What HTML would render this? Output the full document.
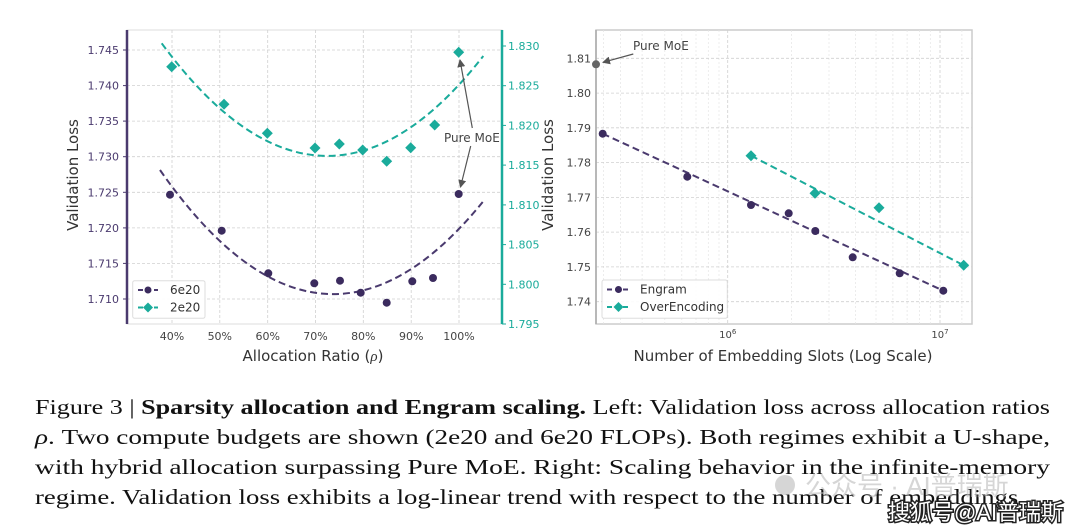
<!DOCTYPE html>
<html><head><meta charset="utf-8"><style>
html,body{margin:0;padding:0;background:#fff;}
svg{display:block;}
.t{font-family:"DejaVu Sans","Liberation Sans",sans-serif;}
.cap{font-family:"Liberation Serif",serif;font-size:21px;fill:#111;}
</style></head><body>
<svg width="1080" height="532" viewBox="0 0 1080 532" xmlns="http://www.w3.org/2000/svg">
<defs>
<marker id="ah" markerWidth="8" markerHeight="8" refX="7" refY="4" orient="auto" markerUnits="userSpaceOnUse"><path d="M0,0 L8,4 L0,8 z" fill="#555"/></marker>
</defs>
<!-- LEFT CHART -->
<rect x="127" y="30" width="375" height="294" fill="#fff" stroke="#ddd"/>
<g stroke="#d0d0d0" stroke-dasharray="3,2" stroke-width="0.8">
<line x1="172" y1="30" x2="172" y2="324"/><line x1="219.8" y1="30" x2="219.8" y2="324"/><line x1="267.7" y1="30" x2="267.7" y2="324"/><line x1="315.5" y1="30" x2="315.5" y2="324"/><line x1="363.3" y1="30" x2="363.3" y2="324"/><line x1="411.2" y1="30" x2="411.2" y2="324"/><line x1="459" y1="30" x2="459" y2="324"/>
<line x1="127" y1="50" x2="502" y2="50"/><line x1="127" y1="85.6" x2="502" y2="85.6"/><line x1="127" y1="121.1" x2="502" y2="121.1"/><line x1="127" y1="156.7" x2="502" y2="156.7"/><line x1="127" y1="192.3" x2="502" y2="192.3"/><line x1="127" y1="227.9" x2="502" y2="227.9"/><line x1="127" y1="263.4" x2="502" y2="263.4"/><line x1="127" y1="299" x2="502" y2="299"/>
</g>
<line x1="127" y1="30" x2="127" y2="324" stroke="#4a3a6e" stroke-width="2.5"/>
<line x1="502" y1="30" x2="502" y2="324" stroke="#1aab9b" stroke-width="2.5"/>
<g class="t" font-size="11" fill="#4a3a6e" text-anchor="end">
<text x="119" y="54">1.745</text><text x="119" y="89.6">1.740</text><text x="119" y="125.1">1.735</text><text x="119" y="160.7">1.730</text><text x="119" y="196.3">1.725</text><text x="119" y="231.9">1.720</text><text x="119" y="267.4">1.715</text><text x="119" y="303">1.710</text>
</g>
<g stroke="#4a3a6e"><line x1="123" y1="50" x2="127" y2="50"/><line x1="123" y1="85.6" x2="127" y2="85.6"/><line x1="123" y1="121.1" x2="127" y2="121.1"/><line x1="123" y1="156.7" x2="127" y2="156.7"/><line x1="123" y1="192.3" x2="127" y2="192.3"/><line x1="123" y1="227.9" x2="127" y2="227.9"/><line x1="123" y1="263.4" x2="127" y2="263.4"/><line x1="123" y1="299" x2="127" y2="299"/></g>
<g stroke="#1aab9b"><line x1="502" y1="46" x2="506" y2="46"/><line x1="502" y1="85.7" x2="506" y2="85.7"/><line x1="502" y1="125.4" x2="506" y2="125.4"/><line x1="502" y1="165.1" x2="506" y2="165.1"/><line x1="502" y1="204.9" x2="506" y2="204.9"/><line x1="502" y1="244.6" x2="506" y2="244.6"/><line x1="502" y1="284.3" x2="506" y2="284.3"/><line x1="502" y1="324" x2="506" y2="324"/></g>
<g class="t" font-size="11" fill="#1aab9b">
<text x="508" y="50">1.830</text><text x="508" y="89.7">1.825</text><text x="508" y="129.4">1.820</text><text x="508" y="169.1">1.815</text><text x="508" y="208.9">1.810</text><text x="508" y="248.6">1.805</text><text x="508" y="288.3">1.800</text><text x="508" y="328">1.795</text>
</g>
<g class="t" font-size="11" fill="#444" text-anchor="middle">
<text x="172" y="340">40%</text><text x="219.8" y="340">50%</text><text x="267.7" y="340">60%</text><text x="315.5" y="340">70%</text><text x="363.3" y="340">80%</text><text x="411.2" y="340">90%</text><text x="459" y="340">100%</text>
</g>
<text class="t" x="313" y="361" font-size="15" fill="#333" text-anchor="middle">Allocation Ratio (<tspan font-style="italic" font-family="Liberation Serif,serif">ρ</tspan>)</text>
<text class="t" transform="translate(78,175) rotate(-90)" font-size="15" fill="#333" text-anchor="middle">Validation Loss</text>
<path d="M160,170 Q321,401 482.7,202" fill="none" stroke="#4a3a6e" stroke-width="2" stroke-dasharray="7,4"/>
<path d="M161.7,43.3 Q322.5,262 483.3,56" fill="none" stroke="#1aab9b" stroke-width="2" stroke-dasharray="7,4"/>
<g fill="#3b2b5e">
<circle cx="170" cy="194.7" r="4"/><circle cx="221.7" cy="230.7" r="4"/><circle cx="268.3" cy="273.3" r="4"/><circle cx="314.3" cy="283.3" r="4"/><circle cx="340" cy="280.7" r="4"/><circle cx="360.7" cy="292.7" r="4"/><circle cx="386.7" cy="302.7" r="4"/><circle cx="412.3" cy="281.3" r="4"/><circle cx="433" cy="278" r="4"/><circle cx="458.7" cy="194" r="4"/>
</g>
<g fill="#1aab9b">
<path d="M171.7,61.2 l5.5,5.5 l-5.5,5.5 l-5.5,-5.5z"/><path d="M224,98.8 l5.5,5.5 l-5.5,5.5 l-5.5,-5.5z"/><path d="M267.3,127.8 l5.5,5.5 l-5.5,5.5 l-5.5,-5.5z"/><path d="M315,142.5 l5.5,5.5 l-5.5,5.5 l-5.5,-5.5z"/><path d="M339.3,138.5 l5.5,5.5 l-5.5,5.5 l-5.5,-5.5z"/><path d="M362.7,144.5 l5.5,5.5 l-5.5,5.5 l-5.5,-5.5z"/><path d="M386.7,155.8 l5.5,5.5 l-5.5,5.5 l-5.5,-5.5z"/><path d="M410.7,142.2 l5.5,5.5 l-5.5,5.5 l-5.5,-5.5z"/><path d="M434.7,119.5 l5.5,5.5 l-5.5,5.5 l-5.5,-5.5z"/><path d="M458.7,46.8 l5.5,5.5 l-5.5,5.5 l-5.5,-5.5z"/>
</g>
<text class="t" x="444" y="142" font-size="12" fill="#444">Pure MoE</text>
<line x1="472.3" y1="128" x2="460" y2="60" stroke="#555" stroke-width="1.2" marker-end="url(#ah)"/>
<line x1="470.7" y1="146" x2="460.5" y2="187" stroke="#555" stroke-width="1.2" marker-end="url(#ah)"/>
<rect x="132.7" y="280.7" width="72.3" height="37.6" rx="2" fill="#fff" fill-opacity="0.9" stroke="#ddd"/>
<line x1="138" y1="290" x2="158" y2="290" stroke="#4a3a6e" stroke-width="2" stroke-dasharray="5,3"/><circle cx="148" cy="290" r="3.5" fill="#3b2b5e"/>
<line x1="138" y1="307.5" x2="158" y2="307.5" stroke="#1aab9b" stroke-width="2" stroke-dasharray="5,3"/><path d="M148,302.5 l5,5 l-5,5 l-5,-5z" fill="#1aab9b"/>
<g class="t" font-size="12" fill="#333"><text x="170" y="294">6e20</text><text x="170" y="311.5">2e20</text></g>

<!-- RIGHT CHART -->
<rect x="596" y="30" width="376" height="294" fill="#fff" stroke="#ccc" stroke-width="1.5"/>
<g stroke="#e4e4e4" stroke-dasharray="2,2" stroke-width="0.7">
<line x1="603.4" y1="30" x2="603.4" y2="324"/><line x1="620.6" y1="30" x2="620.6" y2="324"/><line x1="642.1" y1="30" x2="642.1" y2="324"/><line x1="664.8" y1="30" x2="664.8" y2="324"/><line x1="681.8" y1="30" x2="681.8" y2="324"/><line x1="696" y1="30" x2="696" y2="324"/><line x1="708.3" y1="30" x2="708.3" y2="324"/><line x1="719" y1="30" x2="719" y2="324"/>
<line x1="791.6" y1="30" x2="791.6" y2="324"/><line x1="829" y1="30" x2="829" y2="324"/><line x1="855.5" y1="30" x2="855.5" y2="324"/><line x1="876" y1="30" x2="876" y2="324"/><line x1="892.9" y1="30" x2="892.9" y2="324"/><line x1="907.1" y1="30" x2="907.1" y2="324"/><line x1="919.4" y1="30" x2="919.4" y2="324"/><line x1="930.3" y1="30" x2="930.3" y2="324"/><line x1="961.9" y1="30" x2="961.9" y2="324"/>
</g>
<g stroke="#d0d0d0" stroke-dasharray="3,2" stroke-width="0.8">
<line x1="727.7" y1="30" x2="727.7" y2="324"/><line x1="940" y1="30" x2="940" y2="324"/>
<line x1="596" y1="58.3" x2="972" y2="58.3"/><line x1="596" y1="93.1" x2="972" y2="93.1"/><line x1="596" y1="127.8" x2="972" y2="127.8"/><line x1="596" y1="162.6" x2="972" y2="162.6"/><line x1="596" y1="197.4" x2="972" y2="197.4"/><line x1="596" y1="232.1" x2="972" y2="232.1"/><line x1="596" y1="266.9" x2="972" y2="266.9"/><line x1="596" y1="301.7" x2="972" y2="301.7"/>
</g>
<line x1="596" y1="30" x2="596" y2="324" stroke="#aaa" stroke-width="1.5"/>
<g class="t" font-size="11" fill="#444" text-anchor="end">
<text x="591" y="62.3">1.81</text><text x="591" y="97.1">1.80</text><text x="591" y="131.8">1.79</text><text x="591" y="166.6">1.78</text><text x="591" y="201.4">1.77</text><text x="591" y="236.1">1.76</text><text x="591" y="270.9">1.75</text><text x="591" y="305.7">1.74</text>
</g>
<g class="t" font-size="10" fill="#444" text-anchor="middle">
<text x="727.7" y="338">10<tspan font-size="7" dy="-4">6</tspan></text><text x="940" y="338">10<tspan font-size="7" dy="-4">7</tspan></text>
</g>
<text class="t" x="783" y="361" font-size="15" fill="#333" text-anchor="middle">Number of Embedding Slots (Log Scale)</text>
<text class="t" transform="translate(553,175) rotate(-90)" font-size="15" fill="#333" text-anchor="middle">Validation Loss</text>
<line x1="602.7" y1="133.7" x2="943.3" y2="290.7" stroke="#4a3a6e" stroke-width="2" stroke-dasharray="7,4"/>
<line x1="751" y1="155.7" x2="963.7" y2="265.3" stroke="#1aab9b" stroke-width="2" stroke-dasharray="7,4"/>
<g fill="#3b2b5e">
<circle cx="602.7" cy="133.7" r="4"/><circle cx="687.3" cy="176.7" r="4"/><circle cx="751" cy="205" r="4"/><circle cx="788.7" cy="213.3" r="4"/><circle cx="815.3" cy="231" r="4"/><circle cx="852.7" cy="257.3" r="4"/><circle cx="899.7" cy="273.3" r="4"/><circle cx="943.3" cy="290.7" r="4"/>
</g>
<g fill="#1aab9b">
<path d="M751,150.2 l5.5,5.5 l-5.5,5.5 l-5.5,-5.5z"/><path d="M815,187.8 l5.5,5.5 l-5.5,5.5 l-5.5,-5.5z"/><path d="M879,202.2 l5.5,5.5 l-5.5,5.5 l-5.5,-5.5z"/><path d="M963.7,259.8 l5.5,5.5 l-5.5,5.5 l-5.5,-5.5z"/>
</g>
<circle cx="596" cy="64.3" r="4" fill="#666"/>
<text class="t" x="633" y="50" font-size="12" fill="#444">Pure MoE</text>
<line x1="633.3" y1="54" x2="603" y2="62.3" stroke="#555" stroke-width="1.2" marker-end="url(#ah)"/>
<rect x="602" y="280" width="125.3" height="38.3" rx="2" fill="#fff" fill-opacity="0.9" stroke="#ddd"/>
<line x1="607" y1="289.5" x2="630" y2="289.5" stroke="#4a3a6e" stroke-width="2" stroke-dasharray="5,3"/><circle cx="618.5" cy="289.5" r="3.5" fill="#3b2b5e"/>
<line x1="607" y1="307" x2="630" y2="307" stroke="#1aab9b" stroke-width="2" stroke-dasharray="5,3"/><path d="M618.5,302 l5,5 l-5,5 l-5,-5z" fill="#1aab9b"/>
<g class="t" font-size="12" fill="#333"><text x="640" y="293.5">Engram</text><text x="640" y="311">OverEncoding</text></g>

<!-- CAPTION -->
<text class="cap" x="35" y="414" textLength="1015" lengthAdjust="spacingAndGlyphs">Figure 3 | <tspan font-weight="bold">Sparsity allocation and Engram scaling.</tspan> Left: Validation loss across allocation ratios</text>
<text class="cap" x="35" y="444" textLength="1015" lengthAdjust="spacingAndGlyphs"><tspan font-style="italic">ρ</tspan>. Two compute budgets are shown (2e20 and 6e20 FLOPs). Both regimes exhibit a U-shape,</text>
<text class="cap" x="35" y="474" textLength="1015" lengthAdjust="spacingAndGlyphs">with hybrid allocation surpassing Pure MoE. Right: Scaling behavior in the infinite-memory</text>
<text class="cap" x="35" y="504" textLength="990" lengthAdjust="spacingAndGlyphs">regime. Validation loss exhibits a log-linear trend with respect to the number of embeddings.</text>
<g font-family="'Liberation Sans','Noto Sans CJK SC',sans-serif">
<circle cx="785" cy="485" r="10" fill="#bbb" fill-opacity="0.6"/>
<text x="805" y="495" font-size="26" fill="#bbb" fill-opacity="0.6">公众号 · AI普瑞斯</text>
<text x="888" y="520" font-size="22" fill="#fff" stroke="#222" stroke-width="3" paint-order="stroke">搜狐号@AI普瑞斯</text>
</g>
</svg>
</body></html>
